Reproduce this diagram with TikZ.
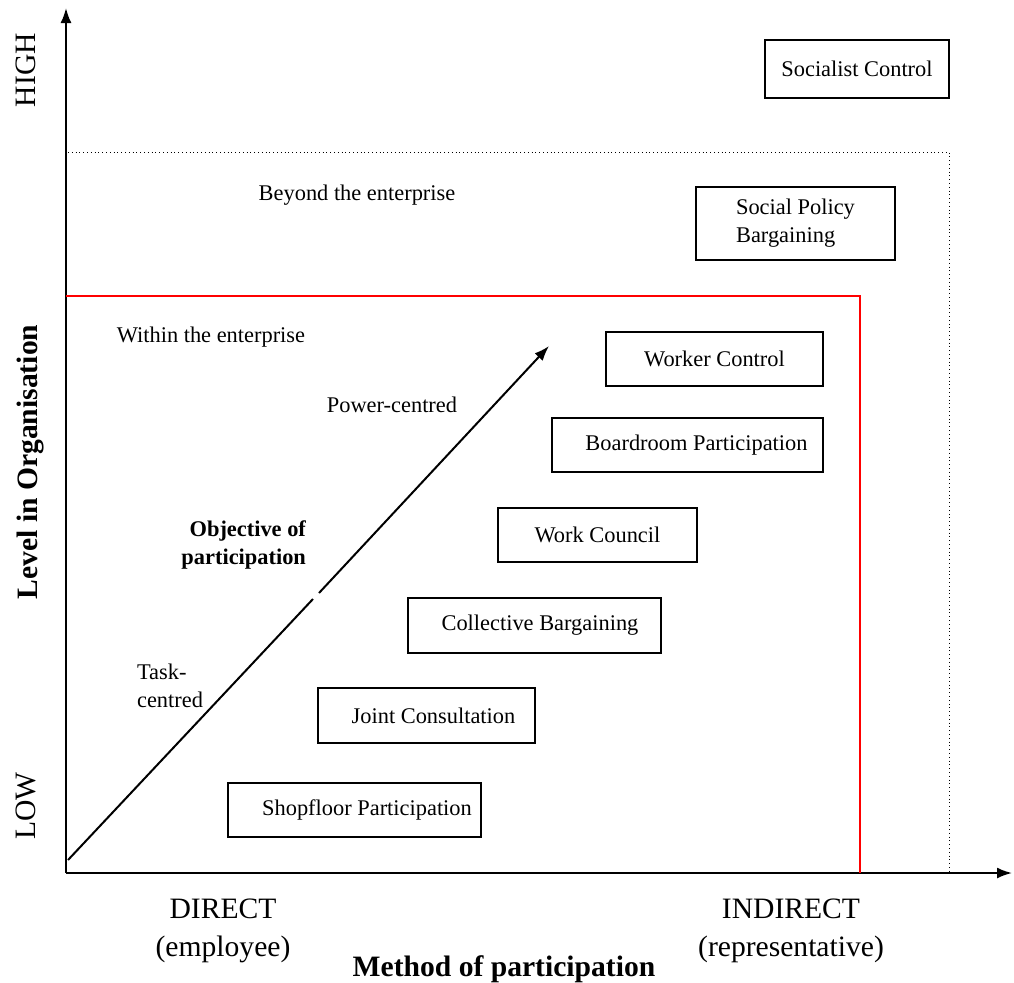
\documentclass[tikz,border=0pt]{standalone}
\usepackage{fontspec}
\setmainfont{Liberation Serif}
\usetikzlibrary{arrows.meta}
\tikzset{>=latex}
\tikzstyle{axisline}=[draw=black,line width=1pt]
\tikzstyle{redline}=[draw=red,line width=0.75pt]
\tikzstyle{dotline}=[draw=black,line width=0.5pt,dash pattern=on 0.5pt off 1.4pt]
\tikzstyle{small}=[font=\fontsize{11.2}{14}\selectfont]
\tikzstyle{big}=[font=\fontsize{14.8}{19}\selectfont]
\tikzstyle{pbox}=[draw=black,line width=0.8pt,inner sep=0pt,small]

\begin{document}
\begin{tikzpicture}[x=0.5pt,y=-0.5pt]
  \useasboundingbox (0,0) rectangle (1014,982);
  \coordinate (O) at (66,873);
  \coordinate (Y) at (66,8);
  \coordinate (X) at (1012,873);
  \coordinate (S) at (68,860);
  \coordinate (G1) at (313,599);
  \coordinate (G2) at (319,593);
  \coordinate (T) at (549,346);

  % axes
  \draw[axisline,-{Latex[length=7.5pt,width=5.5pt]}] (O) -- (Y);
  \draw[axisline,-{Latex[length=7.5pt,width=5.5pt]}] (O) -- (X);

  % enterprise limits
  \draw[dotline] (68,152) -- (949,152) -- (949,873);
  \draw[redline] (66,296) -- (860,296) -- (860,873);

  % objective arrow
  \draw[axisline] (S) -- (G1);
  \draw[axisline,-{Latex[length=7.5pt,width=5.5pt]}] (G2) -- (T);

  % boxes
  \node[pbox,minimum width=92pt,minimum height=29pt] (socialist) at (857,69) {Socialist Control};
  \node[pbox,minimum width=99.5pt,minimum height=36.5pt,align=left] (policy) at (795.5,223.5) {Social Policy\\Bargaining};
  \node[pbox,minimum width=108.5pt,minimum height=27pt] (worker) at (714.5,359) {Worker Control};
  \node[pbox,minimum width=135.5pt,minimum height=27pt] (board) at (687.5,445) {\hspace*{9pt}Boardroom Participation};
  \node[pbox,minimum width=99.5pt,minimum height=27pt] (council) at (597.5,535) {Work Council};
  \node[pbox,minimum width=126.5pt,minimum height=27.5pt] (collective) at (534.5,625.5) {\hspace*{5.5pt}Collective Bargaining};
  \node[pbox,minimum width=108.5pt,minimum height=27.5pt] (joint) at (426.5,715.5) {\hspace*{7pt}Joint Consultation};
  \node[pbox,minimum width=126.5pt,minimum height=27pt] (shop) at (354.5,810) {\hspace*{12.5pt}Shopfloor Participation};

  % labels
  \node[small] (beyond) at (357,195) {Beyond the enterprise};
  \node[small] (within) at (211,337) {Within the enterprise};
  \node[small] (power) at (392,405) {Power-centred};
  \node[small,align=right,font=\fontsize{11.2}{14}\selectfont\bfseries,anchor=east] (objective) at (313,545) {Objective of\\participation};
  \node[small,align=left,anchor=west] (task) at (130,686) {Task-\\centred};

  \node[big,rotate=90] (high) at (26,70) {HIGH};
  \node[big,rotate=90] (low) at (26,806) {LOW};
  \node[big,rotate=90,font=\fontsize{14.8}{19}\selectfont\bfseries] (level) at (30,462) {Level in Organisation};

  \node[big,align=center] (direct) at (223,931) {DIRECT\\(employee)};
  \node[big,align=center] (indirect) at (791,931) {INDIRECT\\(representative)};
  \node[big,font=\fontsize{14.8}{19}\selectfont\bfseries] (method) at (504,969) {Method of participation};
\end{tikzpicture}
\end{document}
